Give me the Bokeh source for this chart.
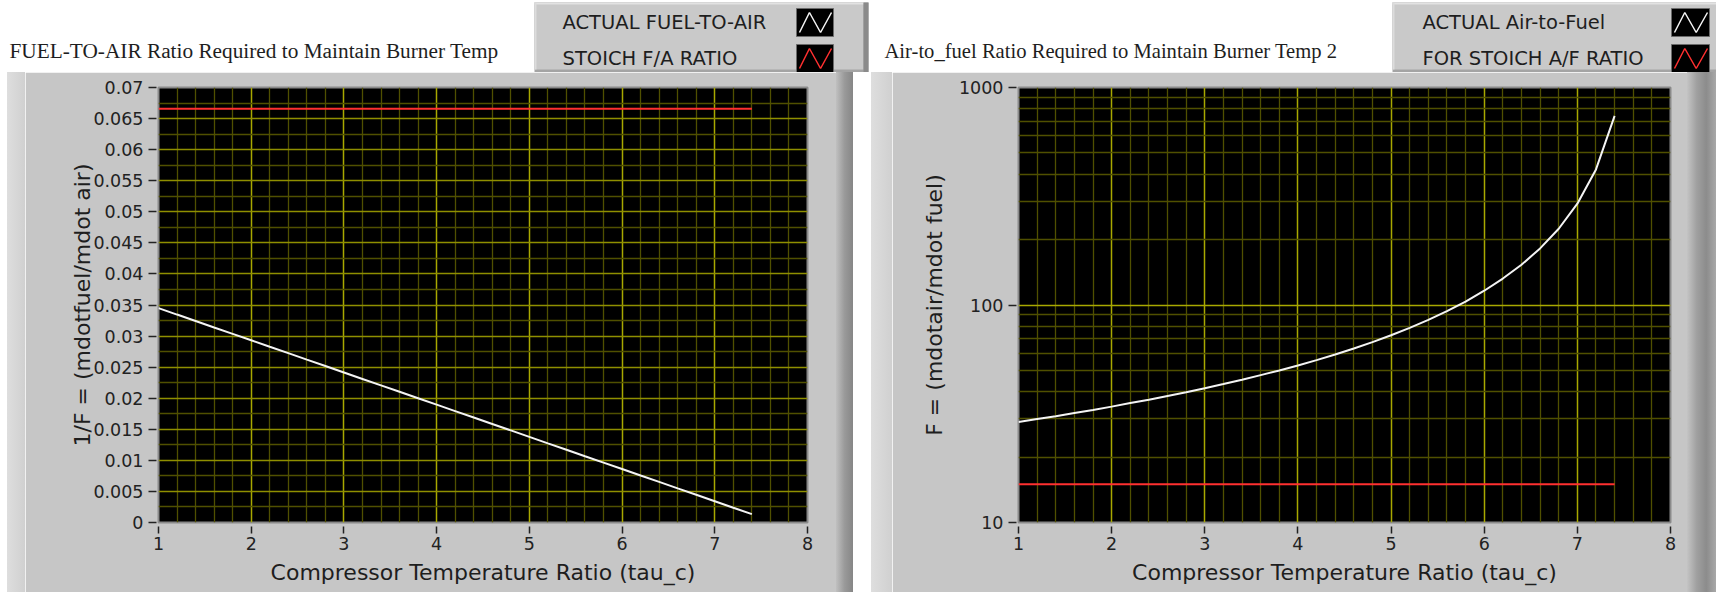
from bokeh.plotting import figure
from bokeh.models import Range1d, FixedTicker, CustomJSTickFormatter, Spacer
from bokeh.layouts import row, column
from bokeh.core.properties import value
from bokeh.embed import file_html
from bokeh.resources import INLINE

# ---------------- data ----------------
tau_c = [1.0, 1.2, 1.4, 1.6, 1.8, 2.0, 2.2, 2.4, 2.6, 2.8, 3.0, 3.2, 3.4, 3.6, 3.8,
         4.0, 4.2, 4.4, 4.6, 4.8, 5.0, 5.2, 5.4, 5.6, 5.8, 6.0, 6.2, 6.4, 6.6, 6.8,
         7.0, 7.2, 7.4]
fuel_to_air = [0.0345, 0.03346, 0.03243, 0.03139, 0.03036, 0.02932, 0.02828, 0.02725,
               0.02621, 0.02518, 0.02414, 0.02310, 0.02207, 0.02103, 0.02000, 0.01896,
               0.01792, 0.01689, 0.01585, 0.01482, 0.01378, 0.01274, 0.01171, 0.01067,
               0.00964, 0.00860, 0.00756, 0.00653, 0.00549, 0.00446, 0.00342, 0.00238,
               0.00135]
air_to_fuel = [29.0, 29.9, 30.8, 31.9, 32.9, 34.1, 35.4, 36.7, 38.2, 39.7, 41.4, 43.3,
               45.3, 47.6, 50.0, 52.7, 55.8, 59.2, 63.1, 67.5, 72.6, 78.5, 85.4, 93.7,
               103.7, 116.3, 132.3, 153.1, 182.1, 224.2, 292.4, 420.2, 740.7]
stoich_tau = [1.0, 7.4]
stoich_fa = [0.0666, 0.0666]
stoich_af = [15.0, 15.0]

x_ticks = [1, 2, 3, 4, 5, 6, 7, 8]
x_tick_labels = ["1", "2", "3", "4", "5", "6", "7", "8"]
fa_ticks = [0, 0.005, 0.01, 0.015, 0.02, 0.025, 0.03, 0.035, 0.04, 0.045, 0.05,
            0.055, 0.06, 0.065, 0.07]
fa_tick_labels = ["0", "0.005", "0.01", "0.015", "0.02", "0.025", "0.03", "0.035",
                  "0.04", "0.045", "0.05", "0.055", "0.06", "0.065", "0.07"]
af_ticks = [10, 100, 1000]
af_tick_labels = ["10", "100", "1000"]

title_left = "FUEL-TO-AIR Ratio Required to Maintain Burner Temp"
title_right = "Air-to_fuel Ratio Required to Maintain Burner Temp 2"
legend_left = ["ACTUAL FUEL-TO-AIR", "STOICH F/A RATIO"]
legend_right = ["ACTUAL Air-to-Fuel", "FOR STOICH A/F RATIO"]
legend_colors = ["#f4f4f4", "#ff3030"]
xlabel = "Compressor Temperature Ratio (tau_c)"
ylabel_left = "1/F = (mdotfuel/mdot air)"
ylabel_right = "F = (mdotair/mdot fuel)"

# ---------------- styling ----------------
FONT = "DejaVu Sans"
SERIF = "Liberation Serif"
PANEL = "#c6c6c6"
TXT = "#1e1e1e"
GRID_MAJ_V = "#a8a800"
GRID_MAJ_H = "#8f8f00"
GRID_MIN = "#505000"
HH = 72            # header height (white strip with title + legend)
HP = 592 - HH      # plot row height

x_minor = [round(1 + 0.2 * i, 1) for i in range(36) if i % 5 != 0]
fa_minor = [round(0.0025 + 0.005 * i, 4) for i in range(14)]
af_minor = [m * 10 ** e for e in (1, 2) for m in range(2, 10)]

FMT_CODE = """
let best = 0; let d = Infinity;
for (let i = 0; i < tv.length; i++) {
  const e = Math.abs(tv[i] - tick);
  if (e < d) { d = e; best = i; }
}
return lv[best];
"""


def make_plot(W, bl, br, y_type, yr, yt, yl, ym, hmaj, ylab, ylab_standoff):
    p = figure(width=W, height=HP, output_backend="svg", toolbar_location=None, tools="",
               x_range=Range1d(1, 8), y_range=yr, y_axis_type=y_type,
               min_border_left=bl, min_border_right=br,
               min_border_top=87 - HH, min_border_bottom=592 - 522,
               background_fill_color="black", border_fill_color=PANEL,
               outline_line_color="#8a8a8a", outline_line_width=2)
    xtk = FixedTicker(ticks=x_ticks, minor_ticks=x_minor)
    ytk = FixedTicker(ticks=yt, minor_ticks=ym)
    p.xaxis.ticker = xtk
    p.xgrid.ticker = xtk
    p.yaxis.ticker = ytk
    p.ygrid.ticker = ytk
    p.xaxis.formatter = CustomJSTickFormatter(args=dict(tv=x_ticks, lv=x_tick_labels), code=FMT_CODE)
    p.yaxis.formatter = CustomJSTickFormatter(args=dict(tv=yt, lv=yl), code=FMT_CODE)
    for ax in (p.xaxis[0], p.yaxis[0]):
        ax.axis_line_color = None
        ax.major_tick_line_color = "#222222"
        ax.major_tick_line_width = 1.5
        ax.minor_tick_line_color = None
        ax.major_label_text_font = FONT
        ax.major_label_text_font_size = "17.5px"
        ax.major_label_text_color = "#222222"
        ax.axis_label_text_font = FONT
        ax.axis_label_text_font_size = "22px"
        ax.axis_label_text_font_style = "normal"
        ax.axis_label_text_color = TXT
    p.xaxis.axis_label = xlabel
    p.yaxis.axis_label = ylab
    p.xaxis.major_tick_in = -4
    p.xaxis.major_tick_out = 11
    p.xaxis.major_label_standoff = 3
    p.xaxis.axis_label_standoff = 7
    p.yaxis.major_tick_in = -2
    p.yaxis.major_tick_out = 10
    p.yaxis.major_label_standoff = 5
    p.yaxis.axis_label_standoff = ylab_standoff
    p.xgrid.grid_line_color = GRID_MAJ_V
    p.xgrid.grid_line_width = 1.5
    p.xgrid.minor_grid_line_color = GRID_MIN
    p.xgrid.minor_grid_line_width = 1.3
    p.ygrid.grid_line_color = hmaj
    p.ygrid.grid_line_width = 1.5
    p.ygrid.minor_grid_line_color = GRID_MIN
    p.ygrid.minor_grid_line_width = 1.3
    return p


def make_header(W, title, tx, tsize, labels, box_l, box_r, text_x, icon_l, icon_r):
    h = figure(width=W, height=HH, output_backend="svg", toolbar_location=None, tools="",
               x_range=Range1d(0, W), y_range=Range1d(HH, 0),
               x_axis_location=None, y_axis_location=None, min_border=0,
               background_fill_color="white", border_fill_color="white",
               outline_line_color=None)
    h.xgrid.visible = False
    h.ygrid.visible = False
    # legend box with a bevel
    h.quad(left=[box_l], right=[box_r], top=[2], bottom=[HH], fill_color="#a4a4a4", line_color=None)
    h.quad(left=[box_l], right=[box_r - 5], top=[2], bottom=[HH - 3], fill_color="#c9c9c9", line_color=None)
    h.quad(left=[box_l], right=[box_r - 5], top=[2], bottom=[4], fill_color="#e2e2e2", line_color=None)
    h.quad(left=[box_l], right=[box_l + 2], top=[2], bottom=[HH - 3], fill_color="#dcdcdc", line_color=None)
    h.quad(left=[box_r - 5], right=[box_r], top=[2], bottom=[HH], fill_color="#8a8a8a", line_color=None)
    rows_y = [22, 58]
    for i, (lab, col) in enumerate(zip(labels, legend_colors)):
        cy = rows_y[i]
        h.quad(left=[icon_l], right=[icon_r], top=[cy - 14], bottom=[cy + 14],
               fill_color="black", line_color="#6a6a6a", line_width=1)
        w = icon_r - icon_l
        h.line([icon_l + 3, icon_l + w * 0.35, icon_l + w * 0.65, icon_r - 2],
               [cy + 10, cy - 10, cy + 10, cy - 10], line_color=col, line_width=1.5)
        h.text(x=[text_x], y=[cy], text=[lab], text_font=value(FONT), text_font_size=value("19.5px"),
               text_color=TXT, text_baseline="middle", text_align="left")
    h.text(x=[tx], y=[50], text=[title], text_font=value(SERIF), text_font_size=value(tsize),
           text_color=TXT, text_baseline="middle", text_align="left")
    return h


def bevel(w, css):
    return Spacer(width=w, height=HP, styles={"background": css})


# ---------------- left panel (page x 0..871) ----------------
p1 = make_plot(836 - 25, 158 - 25, 836 - 807, "linear", Range1d(0, 0.07),
               fa_ticks, fa_tick_labels, fa_minor, GRID_MAJ_H, ylabel_left, -5)
p1.line(tau_c, fuel_to_air, line_color="#f4f4f4", line_width=2)
p1.line(stoich_tau, stoich_fa, line_color="#ff3030", line_width=2)
h1 = make_header(871, title_left, 9, "21.3px", legend_left, 534, 868, 562, 796, 833)
left = column(h1, row(Spacer(width=7, height=HP),
                      bevel(18, "linear-gradient(to right, #dedede, #d0d0d0)"),
                      p1,
                      bevel(17, "linear-gradient(to right, #c0c0c0, #9a9a9a, #868686)"),
                      Spacer(width=18, height=HP), spacing=0), spacing=0)

# ---------------- right panel (page x 871..1716) ----------------
p2 = make_plot(1687 - 892, 1018 - 892, 1687 - 1670, "log", Range1d(10, 1000),
               af_ticks, af_tick_labels, af_minor, GRID_MAJ_V, ylabel_right, 9)
p2.line(tau_c, air_to_fuel, line_color="#f4f4f4", line_width=2)
p2.line(stoich_tau, stoich_af, line_color="#ff3030", line_width=2)
h2 = make_header(845, title_right, 13, "20.6px", legend_right, 521, 850, 551, 800, 838)
right = column(h2, row(bevel(21, "linear-gradient(to right, #dedede, #d0d0d0)"),
                       p2,
                       bevel(29, "linear-gradient(to right, #c4c4c4, #a0a0a0, #8c8c8c, #a8a8a8)"),
                       spacing=0), spacing=0)

layout = row(left, right, spacing=0)
open("out.html", "w").write(file_html(layout, INLINE))
